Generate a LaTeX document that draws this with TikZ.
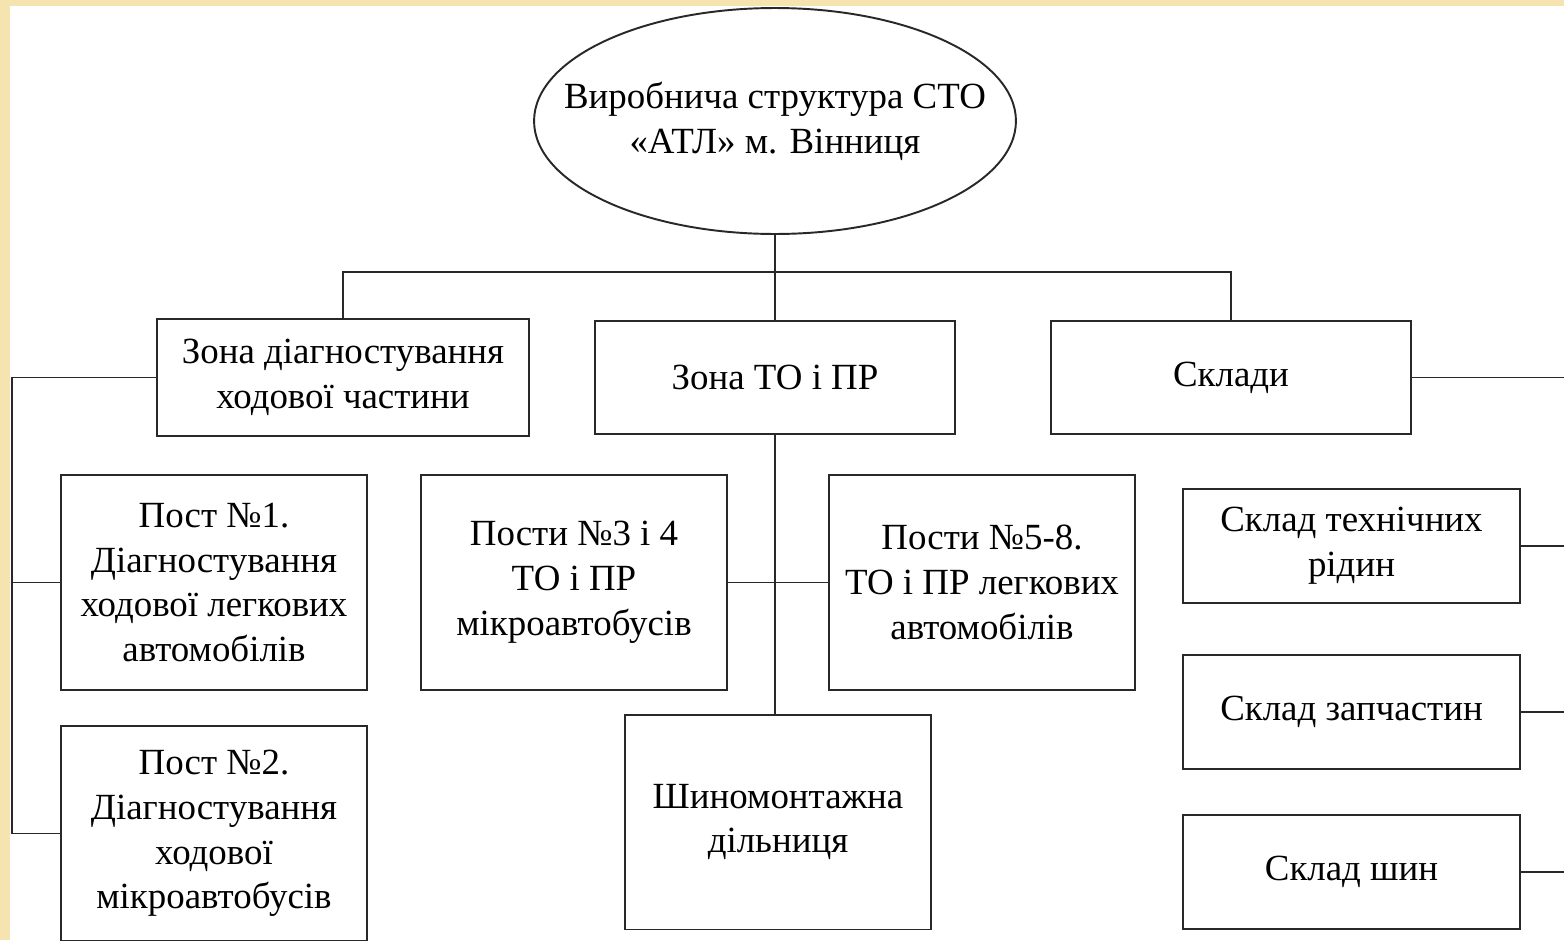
\documentclass[tikz,border=0pt]{standalone}
\usepackage{fontspec}
\setmainfont{Liberation Serif}
\usepackage{tikz}
\usetikzlibrary{shapes.geometric}
\usetikzlibrary{positioning}

\definecolor{hintergrund}{RGB}{246,228,176}
\definecolor{linie}{RGB}{40,40,40}

\tikzset{
  kasten/.style={draw=linie, line width=1.1pt, rectangle, align=center, inner sep=0pt,
    font=\fontsize{21}{25.5}\selectfont},
  oval/.style={draw=linie, line width=1.1pt, ellipse, inner sep=0pt,
    minimum width=9.64cm, minimum height=4.52cm},
  schrift/.style={align=center, inner sep=0pt, font=\fontsize{21}{25.5}\selectfont},
  verb/.style={draw=linie, line width=1.1pt},
}

\begin{document}
\begin{tikzpicture}[%
x={(0.02cm,0cm)},
y={(0cm,-0.02cm)},
]

\useasboundingbox (0,0) rectangle (1564,940);
\fill[hintergrund] (0,0) rectangle (1564,940);
\fill[white] (10,6) rectangle (1564,940);

%Knoten
\node[oval] (sto) at (775,121) {};
\node[schrift] (stotext) at (sto.center) {Виробнича структура СТО\\«АТЛ» м. Вінниця};

\node[kasten, minimum width=7.44cm, minimum height=2.34cm] (diag) at (343,377.5)
  {Зона діагностування\\ходової частини};
\node[kasten, minimum width=7.2cm, minimum height=2.26cm] (topr) at (775,377.5)
  {Зона ТО і ПР};
\node[kasten, minimum width=7.2cm, minimum height=2.26cm] (sklady) at (1231,377.5)
  {Склади};

\node[kasten, minimum width=6.12cm, minimum height=4.3cm] (post1) at (214,582.5)
  {Пост №1.\\Діагностування\\ходової легкових\\автомобілів};
\node[kasten, minimum width=6.12cm, minimum height=4.3cm] (post2) at (214,833.5)
  {Пост №2.\\Діагностування\\ходової\\мікроавтобусів};

\node[kasten, minimum width=6.12cm, minimum height=4.3cm] (post34) at (574,582.5)
  {Пости №3 і 4\\ТО і ПР\\мікроавтобусів};
\node[kasten, minimum width=6.12cm, minimum height=4.3cm] (post58) at (982,582.5)
  {Пости №5-8.\\ТО і ПР легкових\\автомобілів};
\node[kasten, minimum width=6.12cm, minimum height=4.3cm] (shyno) at (778,822)
  {Шиномонтажна\\дільниця};

\node[kasten, minimum width=6.74cm, minimum height=2.28cm] (ridyny) at (1351.5,546)
  {Склад технічних\\рідин};
\node[kasten, minimum width=6.74cm, minimum height=2.28cm] (zapch) at (1351.5,712)
  {Склад запчастин};
\node[kasten, minimum width=6.74cm, minimum height=2.28cm] (shyny) at (1351.5,872)
  {Склад шин};

\coordinate (bus) at (775,272);
\coordinate (links) at (12,833.5);
\coordinate (rechts) at (1564,0);

%Linien
\draw[verb] (sto.south) -- (topr.north);
\draw[verb] (diag.north) |- (bus) -| (sklady.north);

\draw[verb] (diag.west) -| (links) -- (post2.west);
\draw[verb] (post1.west) -- (post1.west -| links);

\draw[verb] (topr.south) -- (topr.south |- shyno.north);
\draw[verb] (post34.east) -- (post58.west);

\draw[verb] (sklady.east) -- (sklady.east -| rechts);
\draw[verb] (ridyny.east) -- (ridyny.east -| rechts);
\draw[verb] (zapch.east) -- (zapch.east -| rechts);
\draw[verb] (shyny.east) -- (shyny.east -| rechts);

\end{tikzpicture}
\end{document}
